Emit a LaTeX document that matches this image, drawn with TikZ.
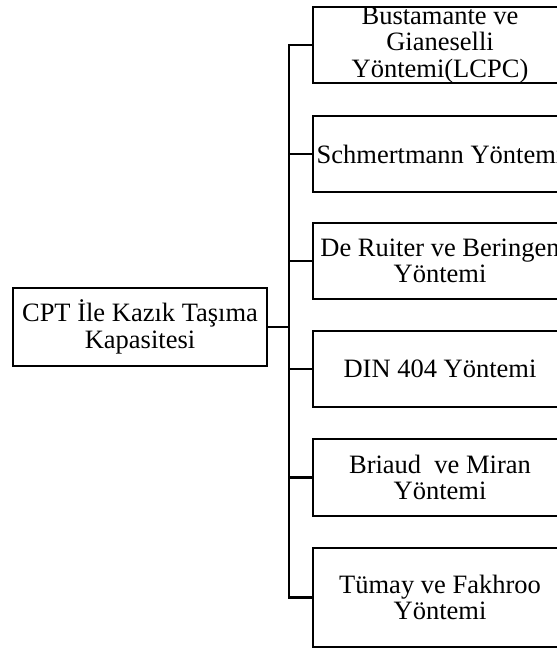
\documentclass[tikz,border=0pt]{standalone}
\usepackage{fontspec}
\setmainfont{Liberation Serif}
\begin{document}
\begin{tikzpicture}[x=1pt,y=-1pt,
  box/.style={draw=black, line width=2.2pt, inner sep=0pt, minimum width=254pt, fill=white},
  lbl/.style={inner sep=0pt, align=center, font=\fontsize{26.5}{26.5}\selectfont},
  conn/.style={draw=black, line width=2.7pt}]
\useasboundingbox (0,0) rectangle (557,651);
\clip (0,0) rectangle (557,651);
\fill[white] (0,0) rectangle (557,651);
% left box
\node[box, minimum height=78pt] (L) at (140,327) {};
\node[lbl] (Lt) at (L) {CPT İle Kazık Taşıma\\Kapasitesi};
% right boxes
\node[box, minimum height=76pt] (b1) at (440,45) {};
\node[lbl] (b1t) at (b1) {Bustamante ve\\Gianeselli\\Yöntemi(LCPC)};
\node[box, minimum height=76pt] (b2) at (440,154) {};
\node[lbl] (b2t) at (b2) {Schmertmann Yöntemi};
\node[box, minimum height=76pt] (b3) at (440,261) {};
\node[lbl] (b3t) at (b3) {De Ruiter ve Beringen\\Yöntemi};
\node[box, minimum height=76pt] (b4) at (440,369) {};
\node[lbl] (b4t) at (b4) {DIN 404 Yöntemi};
\node[box, minimum height=77pt] (b5) at (440,477.5) {};
\node[lbl] (b5t) at (b5) {Briaud\ \ ve Miran\\Yöntemi};
\node[box, minimum height=99pt] (b6) at (440,597.5) {};
\node[lbl] (b6t) at (b6) {Tümay ve Fakhroo\\Yöntemi};
% connectors
\coordinate (tx) at (289,0);
\draw[conn] (b1.west) -- (b1.west -| tx) -- (b6.west -| tx) -- (b6.west);
\draw[conn] (b2.west) -- (b2.west -| tx);
\draw[conn] (b3.west) -- (b3.west -| tx);
\draw[conn] (b4.west) -- (b4.west -| tx);
\draw[conn] (b5.west) -- (b5.west -| tx);
\draw[conn] (L.east) -- (L.east -| tx);
\end{tikzpicture}
\end{document}
